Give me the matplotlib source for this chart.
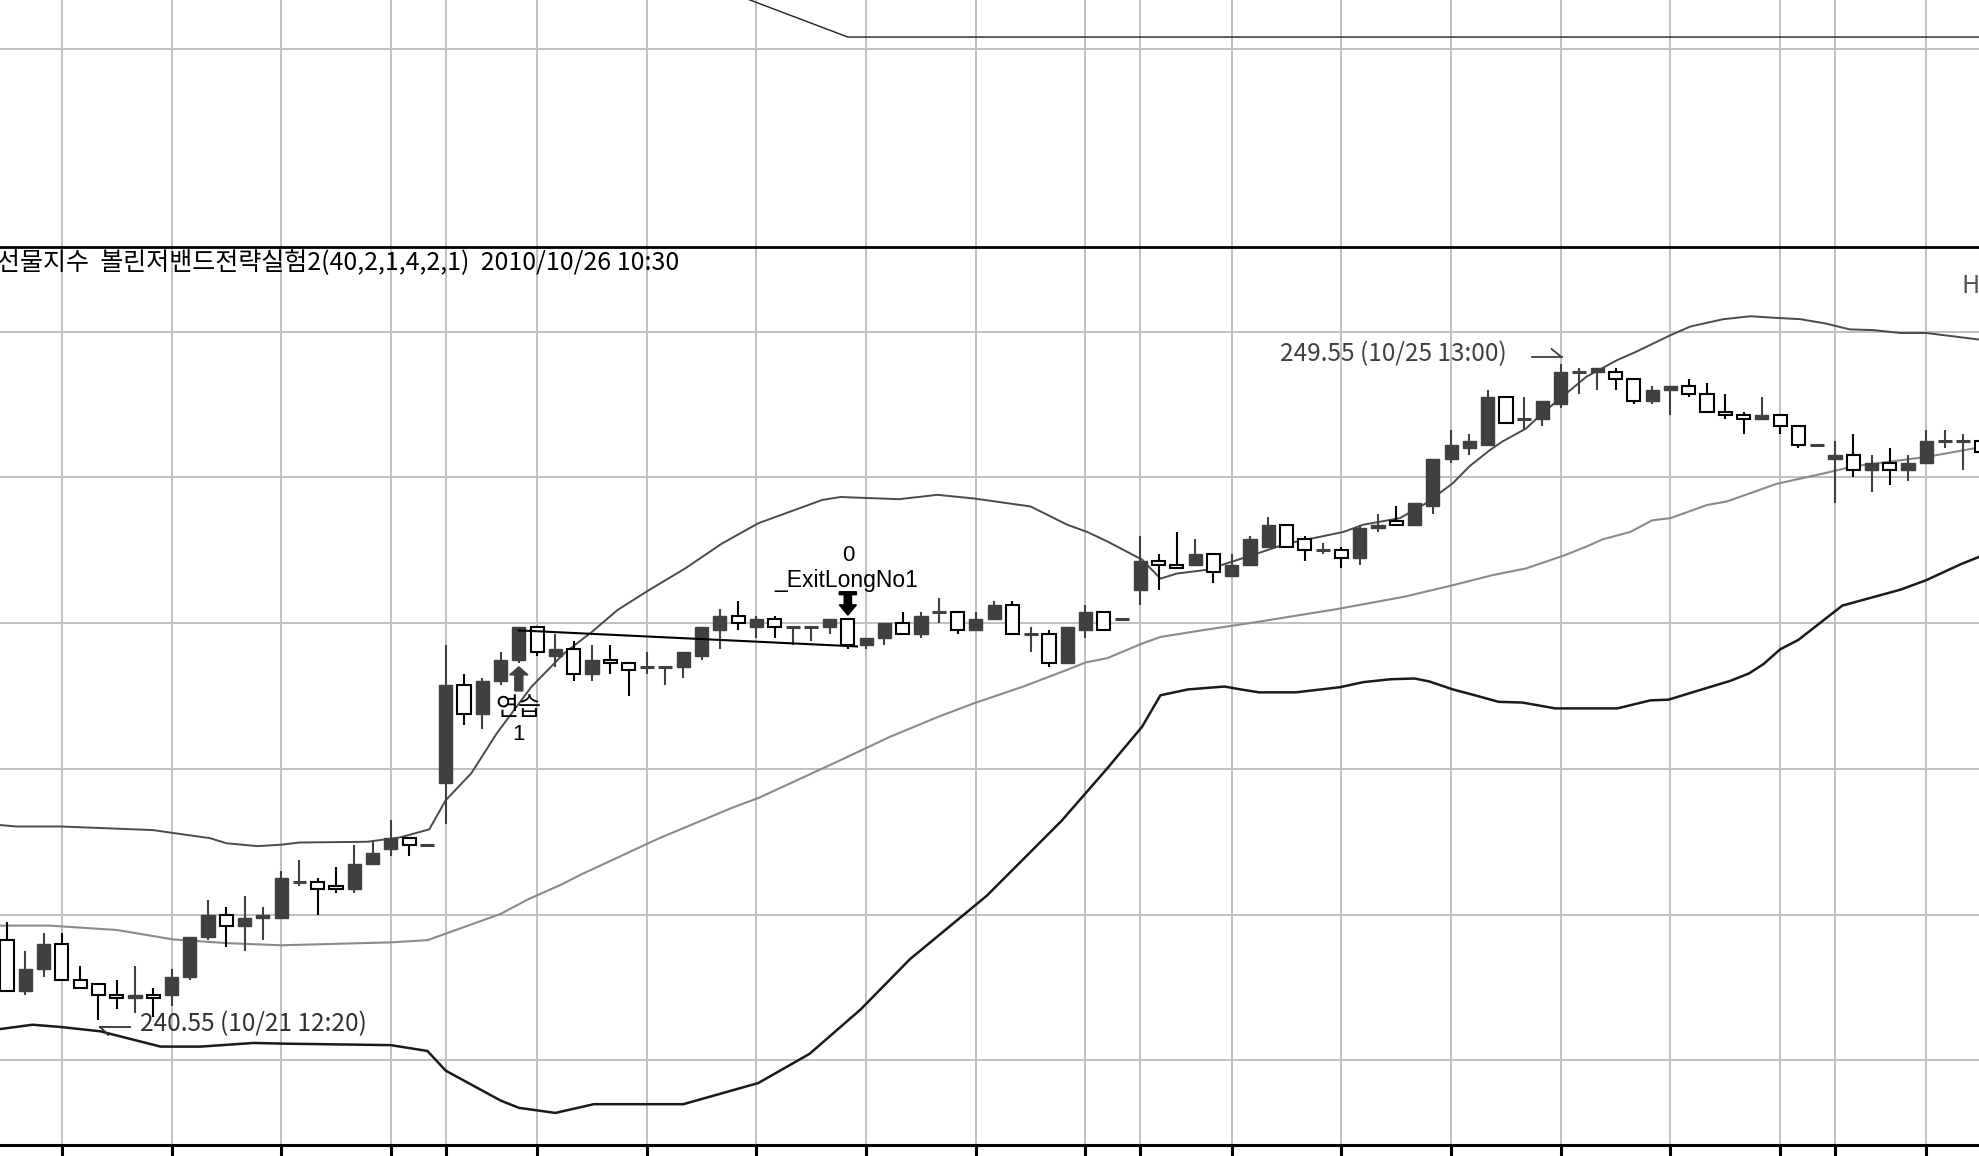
import matplotlib.pyplot as plt
from matplotlib.patches import Polygon
import numpy as np

# --- 1. 10분봉 데이터 (10/21 11:30 ~ 10/26 10:30) ---
opens = [
    241.65, 240.95, 241.25, 241.60, 241.10, 241.05, 240.90, 240.85, 240.90, 240.90, 241.15, 241.70,
    242.00, 241.85, 241.95, 241.95, 242.45, 242.45, 242.40, 242.35, 242.70, 242.90, 243.05, 242.95,
    243.80, 245.15, 244.75, 245.20, 245.50, 245.95, 245.55, 245.65, 245.30, 245.50, 245.45, 245.40,
    245.40, 245.40, 245.55, 245.90, 246.10, 245.95, 246.05, 245.95, 245.95, 245.95, 246.05, 245.70,
    245.80, 246.00, 245.85, 246.15, 246.15, 245.90, 246.05, 246.25, 245.85, 245.85, 245.45, 245.90,
    246.15, 246.05,
    246.45, 246.85, 246.80, 246.80, 246.95, 246.65, 246.80, 247.05, 247.35, 247.15, 247.00, 247.00,
    246.90, 247.30, 247.40, 247.35, 247.60, 248.25, 248.40, 248.45, 249.10, 248.80, 248.80, 249.00,
    249.45, 249.45, 249.45, 249.35, 249.05, 249.20, 249.25, 249.15, 248.90, 248.85, 248.80, 248.85,
    248.70, 248.45,
    248.25, 248.30, 248.10, 248.20, 248.10, 248.20, 248.50, 248.50, 248.50]
highs = [
    241.90, 241.50, 241.75, 241.75, 241.30, 241.05, 241.10, 241.30, 241.00, 241.25, 241.70, 242.20,
    242.10, 242.25, 242.10, 242.60, 242.75, 242.50, 242.65, 242.95, 243.00, 243.30, 243.05, 242.95,
    245.70, 245.30, 245.25, 245.60, 245.95, 245.95, 245.85, 245.75, 245.70, 245.70, 245.45, 245.60,
    245.40, 245.60, 245.95, 246.20, 246.30, 246.10, 246.10, 245.95, 245.95, 246.05, 246.05, 245.80,
    246.00, 246.15, 246.15, 246.35, 246.15, 246.15, 246.30, 246.30, 245.95, 245.90, 245.95, 246.25,
    246.15, 246.05,
    247.20, 246.95, 247.25, 247.15, 246.95, 246.95, 247.20, 247.45, 247.35, 247.20, 247.10, 247.05,
    247.35, 247.50, 247.60, 247.65, 248.25, 248.65, 248.60, 249.20, 249.10, 249.10, 249.05, 249.55,
    249.50, 249.50, 249.50, 249.35, 249.25, 249.25, 249.35, 249.30, 249.15, 248.90, 249.10, 248.85,
    248.70, 248.45,
    248.50, 248.60, 248.30, 248.40, 248.30, 248.65, 248.65, 248.60, 248.50]
lows = [
    240.95, 240.90, 241.15, 241.10, 241.00, 240.55, 240.70, 240.65, 240.60, 240.75, 241.10, 241.65,
    241.55, 241.50, 241.65, 241.95, 242.40, 242.00, 242.30, 242.30, 242.70, 242.80, 242.80, 242.95,
    243.25, 244.60, 244.55, 245.15, 245.45, 245.55, 245.40, 245.20, 245.20, 245.30, 245.00, 245.30,
    245.15, 245.25, 245.50, 245.65, 245.90, 245.80, 245.80, 245.70, 245.75, 245.85, 245.65, 245.65,
    245.70, 245.85, 245.80, 246.00, 245.85, 245.90, 246.05, 245.85, 245.60, 245.40, 245.45, 245.80,
    245.90, 246.05,
    246.25, 246.45, 246.75, 246.80, 246.55, 246.65, 246.80, 247.05, 247.05, 246.85, 246.95, 246.75,
    246.80, 247.25, 247.35, 247.35, 247.50, 248.20, 248.30, 248.45, 248.75, 248.65, 248.70, 248.95,
    249.15, 249.20, 249.20, 249.00, 249.00, 248.85, 249.10, 248.90, 248.80, 248.60, 248.80, 248.60,
    248.40, 248.45,
    247.65, 248.00, 247.80, 247.90, 247.95, 248.20, 248.40, 248.10, 248.35]
closes = [
    240.95, 241.25, 241.60, 241.10, 241.00, 240.90, 240.85, 240.90, 240.85, 241.15, 241.70, 242.00,
    241.85, 241.95, 242.00, 242.50, 242.45, 242.35, 242.35, 242.70, 242.85, 243.05, 242.95, 242.95,
    245.15, 244.75, 245.20, 245.50, 245.95, 245.60, 245.65, 245.30, 245.50, 245.45, 245.35, 245.40,
    245.40, 245.60, 245.95, 246.10, 246.00, 246.05, 245.95, 245.95, 245.95, 246.05, 245.70, 245.80,
    246.00, 245.85, 246.10, 246.15, 245.90, 246.05, 246.25, 245.85, 245.85, 245.45, 245.95, 246.15,
    245.90, 246.05,
    246.85, 246.80, 246.75, 246.95, 246.70, 246.80, 247.15, 247.35, 247.05, 247.00, 247.00, 246.90,
    247.30, 247.35, 247.35, 247.65, 248.25, 248.45, 248.50, 249.10, 248.75, 248.80, 249.05, 249.45,
    249.45, 249.50, 249.35, 249.05, 249.20, 249.25, 249.15, 248.90, 248.85, 248.80, 248.85, 248.70,
    248.45, 248.45,
    248.30, 248.10, 248.20, 248.10, 248.20, 248.50, 248.50, 248.50, 248.35]

# --- 2. 볼린저밴드 (봉 번호, 값) ---
upper_x = [-0.4, 0.5, 2.9, 6.0, 8.0, 9.1, 11.1, 12.0, 13.7, 15.0, 16.0, 19.7, 21.5, 23.1, 24.0,
           25.4, 26.8, 28.7, 30.5, 32.0, 33.4, 35.1, 37.1, 39.1, 41.1, 44.6, 45.6, 48.8, 50.9,
           52.9, 56.0, 58.0, 59.1, 60.2, 62.1, 63.1, 64.0, 65.6, 68.1, 70.0, 73.1, 74.2, 76.2,
           77.6, 79.1, 80.0, 81.1, 81.8, 83.1, 84.0, 85.3, 86.4, 88.1, 89.1, 91.0, 92.1, 93.9,
           95.4, 96.6, 98.1, 99.5, 100.8, 102.1, 103.6, 105.0, 107.9]
upper_y = [243.23, 243.21, 243.21, 243.18, 243.16, 243.12, 243.05, 242.98, 242.94, 242.96, 242.99,
           243.00, 243.06, 243.17, 243.57, 243.94, 244.49, 245.13, 245.59, 245.88, 246.18, 246.45,
           246.75, 247.09, 247.37, 247.69, 247.73, 247.70, 247.76, 247.71, 247.60, 247.35, 247.25,
           247.12, 246.87, 246.61, 246.68, 246.73, 246.93, 247.09, 247.25, 247.35, 247.44, 247.64,
           247.92, 248.15, 248.37, 248.49, 248.67, 248.88, 249.15, 249.38, 249.61, 249.72, 249.95,
           250.07, 250.17, 250.21, 250.19, 250.17, 250.11, 250.03, 250.02, 249.98, 249.98, 249.89]
middle_x = [-0.4, 2.3, 6.0, 9.1, 12.0, 15.0, 21.0, 23.0, 27.0, 28.5, 30.3, 31.4, 35.6, 39.7, 41.1,
            45.6, 48.3, 51.0, 52.9, 55.6, 58.0, 59.0, 60.2, 62.1, 63.1, 65.6, 68.5, 72.7, 76.4,
            79.1, 81.3, 83.1, 85.2, 86.4, 87.3, 88.8, 90.0, 91.0, 93.0, 94.1, 96.8, 99.5, 101.0,
            105.0, 107.9]
middle_y = [241.85, 241.85, 241.79, 241.66, 241.61, 241.58, 241.62, 241.65, 242.01, 242.21, 242.41,
            242.55, 243.04, 243.47, 243.60, 244.12, 244.44, 244.72, 244.90, 245.13, 245.36, 245.46,
            245.52, 245.72, 245.81, 245.91, 246.02, 246.19, 246.36, 246.52, 246.66, 246.75, 246.93,
            247.05, 247.15, 247.25, 247.41, 247.44, 247.62, 247.67, 247.91, 248.06, 248.15, 248.28,
            248.41]
lower_x = [-0.4, 1.4, 2.9, 5.1, 8.4, 10.6, 13.5, 15.3, 21.0, 23.0, 24.0, 27.0, 28.0, 30.0, 32.1,
           37.0, 41.1, 43.9, 46.7, 49.4, 53.6, 57.7, 60.2, 62.1, 63.1, 64.6, 66.6, 67.5, 68.5,
           70.5, 72.9, 74.2, 75.7, 77.0, 77.8, 79.1, 80.3, 81.6, 82.9, 84.7, 88.1, 89.9, 90.9,
           92.2, 94.3, 95.3, 96.1, 97.0, 98.0, 100.4, 103.6, 105.0, 106.9, 107.9]
lower_y = [240.43, 240.49, 240.46, 240.40, 240.19, 240.19, 240.24, 240.23, 240.21, 240.13, 239.86,
           239.45, 239.35, 239.28, 239.40, 239.40, 239.69, 240.09, 240.70, 241.39, 242.26, 243.29,
           244.01, 244.58, 245.01, 245.09, 245.13, 245.09, 245.05, 245.05, 245.12, 245.19, 245.23,
           245.24, 245.20, 245.09, 245.01, 244.92, 244.91, 244.83, 244.83, 244.94, 244.95, 245.05,
           245.21, 245.31, 245.44, 245.64, 245.77, 246.24, 246.46, 246.59, 246.81, 246.91]

# --- 3. 매매 신호 ---
entry_bar, entry_price = 28, 245.90
exit_bar, exit_price = 46.5, 245.68
low_bar, low_label = 5, '240.55 (10/21 12:20)'
high_bar, high_label = 85, '249.55 (10/25 13:00)'
title_text = '선물지수  볼린저밴드전략실험2(40,2,1,4,2,1)  2010/10/26 10:30'

# 상단 지표 패널
top_x = [38.0, 46.0, 108.0]
top_y = [10.74, 8.5, 8.5]

# --- 4. 봉 시간 (격자선 위치 계산용) ---
sessions = [('10/21', 11 * 60 + 30, 15 * 60 + 15), ('10/22', 9 * 60 + 10, 15 * 60 + 15),
            ('10/25', 9 * 60 + 10, 15 * 60 + 15), ('10/26', 9 * 60 + 10, 10 * 60 + 30)]
bar_times = []
for day, start, end in sessions:
    mins = list(range(start, min(end, 15 * 60 + 10) + 1, 10))
    if end == 15 * 60 + 15:
        mins.append(end)
    for k, m in enumerate(mins):
        bar_times.append((day, m, k == 0))

grid_idx = [i for i, (d, m, first) in enumerate(bar_times)
            if m % 60 == 0 or (first and i > 0)]

W, H = 1979, 1156
DARK = '#404040'
NARROW = ['Liberation Sans Narrow', 'Noto Sans CJK KR', 'DejaVu Sans']
REG = ['Liberation Sans', 'Noto Sans CJK KR', 'DejaVu Sans']
KR = ['Noto Sans CJK KR', 'DejaVu Sans']

fig = plt.figure(figsize=(W / 100, H / 100), dpi=100)
fig.patch.set_facecolor('white')
ax_top = fig.add_axes([0, 1 - 247 / H, 1, 247 / H])
ax = fig.add_axes([0, 11 / H, 1, (1145 - 247) / H])

x = np.arange(len(opens))
xlim = (-0.383, 107.88)

# --- 상단 패널 ---
ax_top.set_xlim(*xlim)
ax_top.set_ylim(0, 10)
ax_top.set_xticks(grid_idx)
ax_top.set_yticks([8])
ax_top.grid(color='#c0c0c0', linewidth=1.4)
ax_top.set_axisbelow(True)
ax_top.tick_params(length=0, labelbottom=False, labelleft=False)
for s in ax_top.spines.values():
    s.set_visible(False)
ax_top.plot(top_x, top_y, color='#202020', linewidth=1.0)

# --- 메인 패널 ---
ax.set_xlim(*xlim)
ax.set_ylim(238.84, 251.16)
ax.set_xticks(grid_idx)
ax.set_yticks(np.arange(240, 251, 2))
ax.grid(color='#c0c0c0', linewidth=1.4)
ax.set_axisbelow(True)
ax.tick_params(axis='x', direction='out', length=8, width=2.2, color='black', labelbottom=False)
ax.tick_params(axis='y', length=0, labelleft=False)
ax.spines['left'].set_visible(False)
ax.spines['right'].set_visible(False)
ax.spines['top'].set_linewidth(2.0)
ax.spines['bottom'].set_linewidth(2.2)

# 밴드
ax.plot(middle_x, middle_y, color='#8a8a8a', linewidth=1.5, zorder=2)
ax.plot(upper_x, upper_y, color='#4a4a4a', linewidth=1.4, zorder=2)
ax.plot(lower_x, lower_y, color='#1a1a1a', linewidth=1.8, zorder=2)

# 캔들
o = np.array(opens)
c = np.array(closes)
up = c > o
down = c < o
doji = c == o
wick_colors = np.where(down, 'black', DARK)
ax.vlines(x, lows, highs, colors=wick_colors, linewidth=1.5, zorder=3)
ax.bar(x[up], (c - o)[up], bottom=o[up], width=0.72, color=DARK, edgecolor=DARK,
       linewidth=1.0, zorder=4)
ax.bar(x[down], (o - c)[down], bottom=c[down], width=0.72, color='white', edgecolor='black',
       linewidth=1.5, zorder=4)
ax.hlines(c[doji], x[doji] - 0.38, x[doji] + 0.38, colors=DARK, linewidth=2.2, zorder=4)

# 매매선
ax.plot([entry_bar, exit_bar], [entry_price, exit_price], color='black', linewidth=1.5, zorder=5)

# 진입 화살표 (위)
ea = [(entry_bar - 0.5, 245.29), (entry_bar, 245.40), (entry_bar + 0.5, 245.29),
      (entry_bar + 0.22, 245.29), (entry_bar + 0.22, 245.07), (entry_bar - 0.22, 245.07),
      (entry_bar - 0.22, 245.29)]
ax.add_patch(Polygon(ea, closed=True, color=DARK, zorder=6))
ax.text(entry_bar, 244.84, '연습', family=KR, fontsize=18, ha='center', va='center', zorder=6)
ax.text(entry_bar, 244.47, '1', family=REG, fontsize=16, ha='center', va='center', zorder=6)

# 청산 화살표 (아래)
xb = 46
xa = [(xb - 0.47, 246.43), (xb + 0.47, 246.43), (xb + 0.47, 246.39), (xb + 0.2, 246.39),
      (xb + 0.2, 246.25), (xb + 0.47, 246.25), (xb, 246.11), (xb - 0.47, 246.25),
      (xb - 0.2, 246.25), (xb - 0.2, 246.39), (xb - 0.47, 246.39)]
ax.add_patch(Polygon(xa, closed=True, color='black', zorder=6))
ax.text(xb, 246.93, '0', family=REG, fontsize=16, ha='center', va='center')
ax.text(xb - 0.1, 246.59, '_ExitLongNo1', family=REG, fontsize=16.5, ha='center', va='center')

# 최저/최고 표시
ax.plot([low_bar + 0.09, low_bar + 1.73], [240.46, 240.46], color='#303030', linewidth=1.3)
ax.plot([low_bar + 0.09, low_bar + 0.54], [240.46, 240.35], color='#303030', linewidth=1.3)
ax.text(low_bar + 2.27, 240.50, low_label, family=NARROW, fontsize=17.5, color='#303030',
        ha='left', va='center')
ax.plot([high_bar - 1.6, high_bar + 0.05], [249.65, 249.65], color='#404040', linewidth=1.3)
ax.plot([high_bar - 0.5, high_bar + 0.05], [249.76, 249.65], color='#404040', linewidth=1.3)
ax.text(high_bar - 2.95, 249.69, high_label, family=NARROW, fontsize=17.5, color='#404040',
        ha='right', va='center')

# 제목
fig.text(-3 / W, 1 - 263 / H, title_text, family=NARROW, fontsize=18, color='black',
         ha='left', va='center')
fig.text(1962 / W, 1 - 286 / H, 'H', family=NARROW, fontsize=18, color='#555555',
         ha='left', va='center')

fig.savefig('out.png', dpi=100, facecolor='white')
